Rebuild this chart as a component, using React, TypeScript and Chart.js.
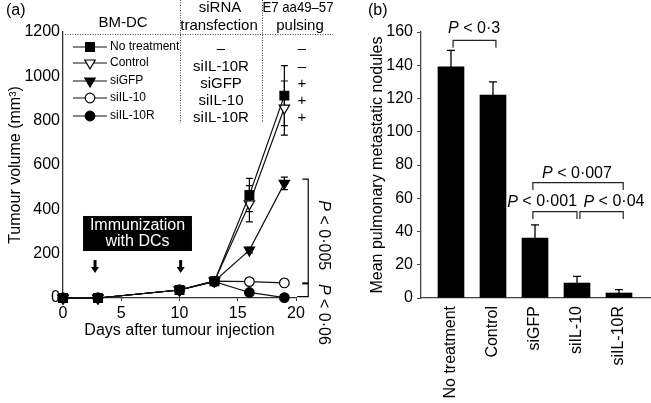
import React, { useEffect, useRef } from 'react';
import { Chart, registerables } from 'chart.js';

Chart.register(...registerables);

const FONT = "'Liberation Sans', Arial, Helvetica, sans-serif";

// ---------- Panel (a) data ----------
const days = [0, 3, 10, 13, 16, 19];
const noTreatment = [0, 0, 36, 76, 465, 913];
const noTreatmentErr = [0, 0, 5, 8, 75, 135];
const control = [0, 0, 36, 76, 425, 857];
const controlErr = [0, 0, 5, 8, 82, 122];
const siGFP = [0, 0, 36, 76, 216, 517];
const siGFPErr = [0, 0, 5, 8, 12, 28];
const siIL10 = [0, 0, 36, 76, 74, 68];
const siIL10Err = [0, 0, 5, 8, 6, 6];
const siIL10R = [0, 0, 36, 74, 25, 2];
const siIL10RErr = [0, 0, 5, 8, 6, 3];
const seriesNames = ['No treatment', 'Control', 'siGFP', 'siIL-10', 'siIL-10R'];
const siRNAColumn = ['–', 'siIL-10R', 'siGFP', 'siIL-10', 'siIL-10R'];
const pulsingColumn = ['–', '–', '+', '+', '+'];
const immunizationDays = [2.75, 10.1];

// ---------- Panel (b) data ----------
const barCategories = ['No treatment', 'Control', 'siGFP', 'siIL-10', 'siIL-10R'];
const noduleMeans = [139, 122, 36, 9, 3];
const noduleErr = [10, 8, 8, 4, 2];

const seriesA = [
  { values: noTreatment, err: noTreatmentErr, style: 'rect', radius: 6.2, rot: 0, filled: true, order: 1 },
  { values: control, err: controlErr, style: 'triangle', radius: 6, rot: 180, filled: false, order: 2 },
  { values: siGFP, err: siGFPErr, style: 'triangle', radius: 6, rot: 180, filled: true, order: 3 },
  { values: siIL10, err: siIL10Err, style: 'circle', radius: 4.8, rot: 0, filled: false, order: 4 },
  { values: siIL10R, err: siIL10RErr, style: 'circle', radius: 4.8, rot: 0, filled: true, order: 0 },
];

function drawPText(ctx: CanvasRenderingContext2D, rest: string, x: number, y: number, size: number) {
  ctx.save();
  ctx.textBaseline = 'middle';
  ctx.textAlign = 'left';
  ctx.fillStyle = '#000';
  ctx.font = `italic ${size}px ${FONT}`;
  const wP = ctx.measureText('P').width;
  ctx.font = `${size}px ${FONT}`;
  const wR = ctx.measureText(rest).width;
  const x0 = x - (wP + wR) / 2;
  ctx.font = `italic ${size}px ${FONT}`;
  ctx.fillText('P', x0, y);
  ctx.font = `${size}px ${FONT}`;
  ctx.fillText(rest, x0 + wP, y);
  ctx.restore();
}

function drawMarker(ctx: CanvasRenderingContext2D, style: string, x: number, y: number, r: number, rot: number, filled: boolean) {
  ctx.save();
  ctx.beginPath();
  if (style === 'rect') {
    const s = Math.SQRT1_2 * r;
    ctx.rect(x - s, y - s, 2 * s, 2 * s);
  } else if (style === 'triangle') {
    let a = (rot * Math.PI) / 180;
    ctx.moveTo(x + Math.sin(a) * r, y - Math.cos(a) * r);
    a += (2 * Math.PI) / 3;
    ctx.lineTo(x + Math.sin(a) * r, y - Math.cos(a) * r);
    a += (2 * Math.PI) / 3;
    ctx.lineTo(x + Math.sin(a) * r, y - Math.cos(a) * r);
    ctx.closePath();
  } else {
    ctx.arc(x, y, r, 0, Math.PI * 2);
  }
  ctx.fillStyle = filled ? '#000' : '#fff';
  ctx.fill();
  ctx.lineWidth = 1.2;
  ctx.strokeStyle = '#000';
  ctx.stroke();
  ctx.restore();
}

const panelAPlugin = {
  id: 'panelA',
  beforeDatasetsDraw(chart: any) {
    const ctx = chart.ctx as CanvasRenderingContext2D;
    const xs = chart.scales.x;
    const ys = chart.scales.y;
    ctx.save();
    ctx.strokeStyle = '#000';
    ctx.lineWidth = 1.2;
    seriesA.forEach((s) => {
      s.values.forEach((v, i) => {
        const e = s.err[i];
        if (!e) return;
        const x = xs.getPixelForValue(days[i]);
        const yt = ys.getPixelForValue(v + e);
        const yb = ys.getPixelForValue(v - e);
        ctx.beginPath();
        ctx.moveTo(x, yt);
        ctx.lineTo(x, yb);
        ctx.moveTo(x - 3.5, yt);
        ctx.lineTo(x + 3.5, yt);
        ctx.moveTo(x - 3.5, yb);
        ctx.lineTo(x + 3.5, yb);
        ctx.stroke();
      });
    });
    ctx.restore();
  },
  afterDraw(chart: any) {
    const ctx = chart.ctx as CanvasRenderingContext2D;
    const xs = chart.scales.x;
    const ys = chart.scales.y;
    ctx.save();
    // panel label
    ctx.fillStyle = '#000';
    ctx.font = `16px ${FONT}`;
    ctx.textBaseline = 'middle';
    ctx.textAlign = 'left';
    ctx.fillText('(a)', 6, 11);

    // table dotted lines
    ctx.strokeStyle = '#444';
    ctx.lineWidth = 1;
    ctx.setLineDash([1, 1.5]);
    ctx.beginPath();
    ctx.moveTo(65, 34.5);
    ctx.lineTo(333, 34.5);
    ctx.moveTo(180.5, 0);
    ctx.lineTo(180.5, 123);
    ctx.moveTo(262.5, 0);
    ctx.lineTo(262.5, 123);
    ctx.stroke();
    ctx.setLineDash([]);

    // headers
    ctx.textAlign = 'center';
    ctx.font = `15px ${FONT}`;
    ctx.fillText('BM-DC', 123, 23);
    ctx.fillText('siRNA', 220, 8);
    ctx.fillText('transfection', 219, 26);
    ctx.fillText('E7 aa49–57', 298, 8, 71);
    ctx.fillText('pulsing', 300, 26);

    // legend rows
    const legendRows = [47, 63, 81, 98, 116];
    const tableRows = [49, 67, 84, 101, 118];
    seriesA.forEach((s, i) => {
      const y = legendRows[i];
      ctx.strokeStyle = '#111';
      ctx.lineWidth = 1.2;
      ctx.beginPath();
      ctx.moveTo(73, y);
      ctx.lineTo(107, y);
      ctx.stroke();
      drawMarker(ctx, s.style, 90, y, s.radius, s.rot, s.filled);
      ctx.fillStyle = '#000';
      ctx.font = `12px ${FONT}`;
      ctx.textAlign = 'left';
      ctx.textBaseline = 'middle';
      ctx.fillText(seriesNames[i], 110, y);
      ctx.font = `15px ${FONT}`;
      ctx.textAlign = 'center';
      ctx.fillText(siRNAColumn[i], 221, tableRows[i]);
      ctx.fillText(pulsingColumn[i], 302, tableRows[i]);
    });

    // immunization box
    const bx1 = xs.getPixelForValue(1.72);
    const bx2 = xs.getPixelForValue(11.07);
    const by1 = ys.getPixelForValue(370);
    const by2 = ys.getPixelForValue(212);
    ctx.fillStyle = '#000';
    ctx.fillRect(bx1, by1, bx2 - bx1, by2 - by1);
    ctx.fillStyle = '#fff';
    ctx.font = `16px ${FONT}`;
    ctx.textAlign = 'center';
    ctx.textBaseline = 'middle';
    const bcx = (bx1 + bx2) / 2;
    ctx.fillText('Immunization', bcx, by1 + 10);
    ctx.fillText('with DCs', bcx, by1 + 26);

    // arrows
    ctx.fillStyle = '#000';
    immunizationDays.forEach((d) => {
      const x = xs.getPixelForValue(d);
      const yTop = ys.getPixelForValue(171);
      const yTip = ys.getPixelForValue(113);
      ctx.fillRect(x - 1.5, yTop, 3, yTip - yTop - 5);
      ctx.beginPath();
      ctx.moveTo(x - 4, yTip - 6);
      ctx.lineTo(x + 4, yTip - 6);
      ctx.lineTo(x, yTip);
      ctx.closePath();
      ctx.fill();
    });

    // significance brackets
    const bxv = xs.getPixelForValue(21.05);
    const yTop = ys.getPixelForValue(536);
    const yMid = ys.getPixelForValue(66);
    const yBot = ys.getPixelForValue(6);
    ctx.strokeStyle = '#000';
    ctx.lineWidth = 1.2;
    ctx.beginPath();
    ctx.moveTo(bxv - 6, yTop);
    ctx.lineTo(bxv, yTop);
    ctx.lineTo(bxv, yBot);
    ctx.lineTo(bxv - 11, yBot);
    ctx.stroke();
    ctx.lineWidth = 2;
    ctx.beginPath();
    ctx.moveTo(bxv - 6, yMid);
    ctx.lineTo(bxv, yMid);
    ctx.stroke();

    ctx.save();
    ctx.translate(bxv + 15, (yTop + yMid) / 2 + 4);
    ctx.rotate(Math.PI / 2);
    drawPText(ctx, ' < 0·005', 0, 0, 16);
    ctx.restore();
    ctx.save();
    ctx.translate(bxv + 15, yMid + 31);
    ctx.rotate(Math.PI / 2);
    drawPText(ctx, ' < 0·06', 0, 0, 16);
    ctx.restore();

    ctx.restore();
  },
};

const brackets = [
  { from: 0.05, to: 1.07, y: 155, leg: 150.6, text: ' < 0·3', tx: 0.55, ty: 162 },
  { from: 1.95, to: 4.1, y: 69.4, leg: 65, text: ' < 0·007', tx: 3.0, ty: 74.6 },
  { from: 1.95, to: 3.0, y: 52, leg: 47.5, text: ' < 0·001', tx: 2.17, ty: 57.7 },
  { from: 3.07, to: 4.1, y: 52, leg: 47.5, text: ' < 0·04', tx: 3.88, ty: 57.7 },
];

const panelBPlugin = {
  id: 'panelB',
  beforeDatasetsDraw(chart: any) {
    const ctx = chart.ctx as CanvasRenderingContext2D;
    const xs = chart.scales.x;
    const ys = chart.scales.y;
    ctx.save();
    ctx.strokeStyle = '#000';
    ctx.lineWidth = 1.3;
    noduleMeans.forEach((m, i) => {
      const x = xs.getPixelForValue(i);
      const y1 = ys.getPixelForValue(m);
      const y2 = ys.getPixelForValue(m + noduleErr[i]);
      ctx.beginPath();
      ctx.moveTo(x, y1);
      ctx.lineTo(x, y2);
      ctx.moveTo(x - 4, y2);
      ctx.lineTo(x + 4, y2);
      ctx.stroke();
    });
    ctx.restore();
  },
  afterDraw(chart: any) {
    const ctx = chart.ctx as CanvasRenderingContext2D;
    const xs = chart.scales.x;
    const ys = chart.scales.y;
    ctx.save();
    ctx.fillStyle = '#000';
    ctx.font = `16px ${FONT}`;
    ctx.textBaseline = 'middle';
    ctx.textAlign = 'left';
    ctx.fillText('(b)', 23, 11);

    ctx.strokeStyle = '#222';
    ctx.lineWidth = 1.2;
    brackets.forEach((b) => {
      const x1 = xs.getPixelForValue(b.from);
      const x2 = xs.getPixelForValue(b.to);
      const y = ys.getPixelForValue(b.y);
      const yl = ys.getPixelForValue(b.leg);
      ctx.beginPath();
      ctx.moveTo(x1, yl);
      ctx.lineTo(x1, y);
      ctx.lineTo(x2, y);
      ctx.lineTo(x2, yl);
      ctx.stroke();
      drawPText(ctx, b.text, xs.getPixelForValue(b.tx), ys.getPixelForValue(b.ty), 16);
    });
    ctx.restore();
  },
};

function PanelA() {
  const ref = useRef<HTMLCanvasElement | null>(null);
  useEffect(() => {
    if (!ref.current) return;
    const chart = new Chart(ref.current, {
      type: 'line',
      data: {
        datasets: seriesA.map((s, k) => ({
          label: seriesNames[k],
          data: days.map((d, i) => ({ x: d, y: s.values[i] })),
          borderColor: '#111',
          borderWidth: 1.2,
          pointStyle: s.style as any,
          pointRadius: s.radius,
          pointRotation: s.rot,
          pointBackgroundColor: s.filled ? '#000' : '#fff',
          pointBorderColor: '#000',
          pointBorderWidth: 1.2,
          fill: false,
          tension: 0,
          clip: false as any,
          order: s.order,
        })),
      },
      options: {
        animation: false,
        responsive: false,
        maintainAspectRatio: false,
        layout: { padding: { top: 32, right: 49, bottom: 0, left: 0 } },
        plugins: { legend: { display: false }, tooltip: { enabled: false } },
        scales: {
          x: {
            type: 'linear',
            min: 0,
            max: 20,
            ticks: { stepSize: 5, color: '#000', font: { size: 16, family: FONT }, padding: 3, callback: (v: any) => String(v) },
            grid: { drawOnChartArea: false, tickLength: 3, color: '#333' },
            border: { color: '#333', width: 1.3 },
            title: {
              display: true,
              text: 'Days after tumour injection',
              color: '#000',
              font: { size: 16, family: FONT },
              padding: { top: 0, bottom: 63 },
            },
            afterFit: (s: any) => {
              s.height = 105;
            },
          },
          y: {
            min: 0,
            max: 1200,
            ticks: { stepSize: 200, color: '#000', font: { size: 16, family: FONT }, padding: 3, callback: (v: any) => String(v) },
            grid: { drawOnChartArea: false, drawTicks: false, color: '#333' },
            border: { color: '#333', width: 1.3 },
            title: {
              display: true,
              text: 'Tumour volume (mm³)',
              color: '#000',
              font: { size: 16, family: FONT },
              padding: { top: 6, bottom: 0 },
            },
            afterFit: (s: any) => {
              s.width = 63;
            },
          },
        },
      } as any,
      plugins: [panelAPlugin],
    });
    return () => chart.destroy();
  }, []);
  return <canvas ref={ref} width={345} height={403} style={{ position: 'absolute', left: 0, top: 0, width: 345, height: 403 }} />;
}

function PanelB() {
  const ref = useRef<HTMLCanvasElement | null>(null);
  useEffect(() => {
    if (!ref.current) return;
    const chart = new Chart(ref.current, {
      type: 'bar',
      data: {
        datasets: [
          {
            label: 'Mean pulmonary metastatic nodules',
            data: barCategories.map((c, i) => ({ x: i, y: noduleMeans[i] })),
            backgroundColor: '#000',
            borderWidth: 0,
            barThickness: 26,
          },
        ],
      },
      options: {
        animation: false,
        responsive: false,
        maintainAspectRatio: false,
        layout: { padding: { top: 32, right: 1, bottom: 0, left: 0 } },
        plugins: { legend: { display: false }, tooltip: { enabled: false } },
        scales: {
          x: {
            type: 'linear',
            min: -0.714,
            max: 4.738,
            offset: false,
            afterBuildTicks: (s: any) => {
              s.ticks = barCategories.map((_, i) => ({ value: i }));
            },
            ticks: {
              autoSkip: false,
              minRotation: 90,
              maxRotation: 90,
              color: '#000',
              font: { size: 16, family: FONT },
              padding: 8,
              callback: (v: any) => barCategories[v] ?? '',
            },
            grid: { drawOnChartArea: false, drawTicks: false },
            border: { color: '#444', width: 1.3 },
            afterFit: (s: any) => {
              s.height = 105;
            },
          },
          y: {
            min: 0,
            max: 160,
            ticks: { stepSize: 20, color: '#000', font: { size: 16, family: FONT }, padding: 4 },
            grid: { drawOnChartArea: false, tickLength: 4, color: '#444' },
            border: { color: '#444', width: 1.3 },
            title: {
              display: true,
              text: 'Mean pulmonary metastatic nodules',
              color: '#000',
              font: { size: 16, family: FONT },
              padding: { top: 23, bottom: 0 },
            },
            afterFit: (s: any) => {
              s.width = 76;
            },
          },
        },
      } as any,
      plugins: [panelBPlugin],
    });
    return () => chart.destroy();
  }, []);
  return <canvas ref={ref} width={306} height={403} style={{ position: 'absolute', left: 345, top: 0, width: 306, height: 403 }} />;
}

export default function App() {
  return (
    <div style={{ position: 'fixed', left: 0, top: 0, width: 651, height: 403, background: '#fff', overflow: 'hidden' }}>
      <PanelA />
      <PanelB />
    </div>
  );
}
